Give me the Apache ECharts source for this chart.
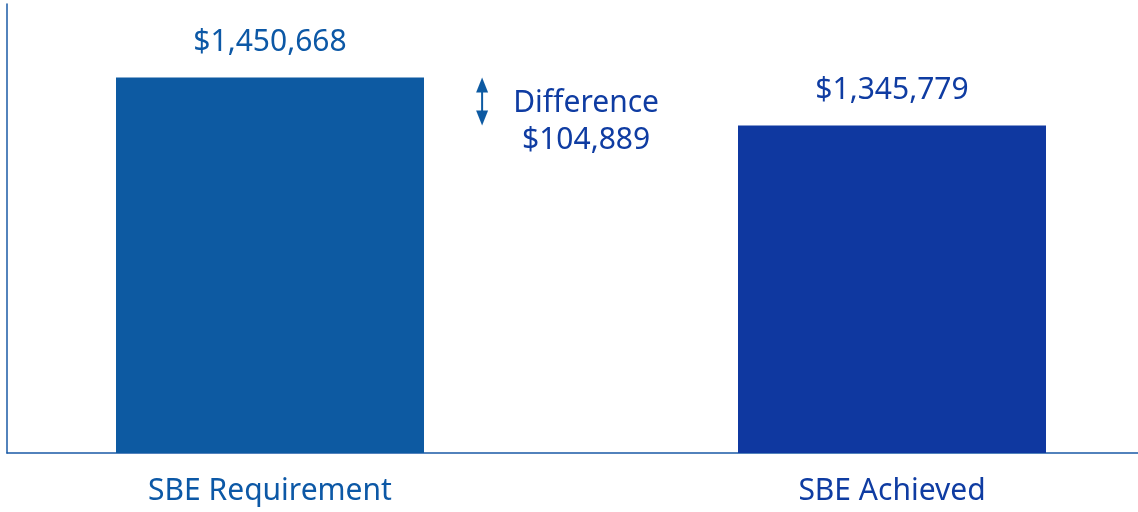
<!DOCTYPE html>
<html>
<head>
<meta charset="utf-8">
<script src="https://cdn.jsdelivr.net/npm/echarts@6/dist/echarts.min.js"></script>
<style>
html,body{margin:0;padding:0;background:#fff;}
#chart{width:1138px;height:512px;}
</style>
</head>
<body>
<div id="chart"></div>
<script>
const categories = ['SBE Requirement', 'SBE Achieved'];
const values = [1450668, 1345779];
const barColors = ['#0d5aa2', '#0f38a0'];
const labelColors = ['#0c58a6', '#0f3ca2'];
const yMin = 630000;
const yMax = 1500000;
const xMin = -0.4341;
const xMax = 1.3955;
const diffX = 0.341;

const diff = values[0] - values[1];
const fmt = v => '$' + v.toLocaleString('en-US');
const FONT = 'Noto Sans';
const FS = 30;

const chart = echarts.init(document.getElementById('chart'), null, {renderer: 'canvas'});
chart.setOption({
  backgroundColor: '#ffffff',
  animation: false,
  grid: [
    {left: 0, right: 0, top: 55, bottom: 59},
    {left: 7, right: 0, top: 4, bottom: 59}
  ],
  xAxis: [
    {
      type: 'value', gridIndex: 0, min: xMin, max: xMax,
      axisLine: {show: false}, axisTick: {show: false}, splitLine: {show: false},
      axisLabel: {
        customValues: categories.map((c, i) => i),
        margin: 23, fontFamily: FONT, fontSize: FS,
        formatter: v => categories[Math.round(v)] || '',
        color: v => labelColors[Math.round(v)] || labelColors[0]
      }
    },
    {
      type: 'value', gridIndex: 1, min: 0, max: 1,
      axisLine: {show: true, lineStyle: {color: '#1a5aa6', width: 1.5}},
      axisTick: {show: false}, axisLabel: {show: false}, splitLine: {show: false}
    }
  ],
  yAxis: [
    {type: 'value', gridIndex: 0, min: yMin, max: yMax, show: false},
    {
      type: 'value', gridIndex: 1, min: 0, max: 1,
      axisLine: {show: true, lineStyle: {color: '#1a5aa6', width: 1.5}},
      axisTick: {show: false}, axisLabel: {show: false}, splitLine: {show: false}
    }
  ],
  series: [
    {
      type: 'bar', xAxisIndex: 0, yAxisIndex: 0,
      barWidth: 308,
      data: values.map((v, i) => ({
        value: [i, v],
        itemStyle: {color: barColors[i]},
        label: {color: labelColors[i]}
      })),
      label: {
        show: true, position: 'top', distance: 20,
        fontFamily: FONT, fontSize: FS,
        formatter: p => fmt(p.value[1])
      }
    },
    {
      type: 'scatter', xAxisIndex: 0, yAxisIndex: 0,
      symbolSize: 0,
      itemStyle: {opacity: 1},
      data: [[diffX, (values[0] + values[1]) / 2]],
      label: {
        show: true, position: 'inside', offset: [104, 20],
        fontFamily: FONT, fontSize: FS, lineHeight: 37, align: 'center',
        color: labelColors[1], opacity: 1,
        formatter: () => 'Difference\n' + fmt(diff)
      }
    },
    {
      type: 'custom', xAxisIndex: 0, yAxisIndex: 0,
      silent: true,
      data: [[diffX, values[0], values[1]]],
      renderItem: (params, api) => {
        const top = api.coord([api.value(0), api.value(1)]);
        const bot = api.coord([api.value(0), api.value(2)]);
        const x = top[0], hw = 6, hh = 15, c = '#0d5aa2';
        return {
          type: 'group',
          children: [
            {type: 'line', shape: {x1: x, y1: top[1] + hh - 1, x2: x, y2: bot[1] - hh + 1},
             style: {stroke: c, lineWidth: 2}},
            {type: 'polygon', shape: {points: [[x, top[1]], [x - hw, top[1] + hh], [x + hw, top[1] + hh]]},
             style: {fill: c}},
            {type: 'polygon', shape: {points: [[x, bot[1]], [x - hw, bot[1] - hh], [x + hw, bot[1] - hh]]},
             style: {fill: c}}
          ]
        };
      }
    }
  ]
});
</script>
</body>
</html>
